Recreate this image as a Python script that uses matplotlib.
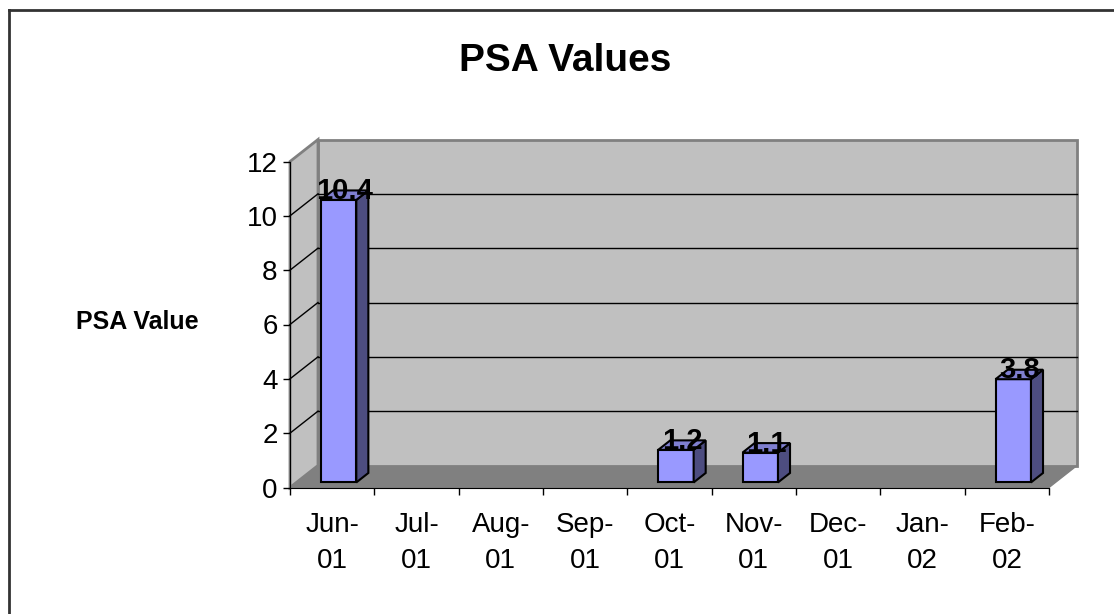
import matplotlib.pyplot as plt
from matplotlib.patches import Polygon
import numpy as np

plt.rcParams['font.family'] = ['Liberation Sans', 'DejaVu Sans']

# data
months = ["Jun-\n01", "Jul-\n01", "Aug-\n01", "Sep-\n01", "Oct-\n01",
          "Nov-\n01", "Dec-\n01", "Jan-\n02", "Feb-\n02"]
psa = [10.4, np.nan, np.nan, np.nan, 1.2, 1.1, np.nan, np.nan, 3.8]
yticks = [0, 2, 4, 6, 8, 10, 12]

W, H = 1114, 614
fig = plt.figure(figsize=(W / 100, H / 100), dpi=100)
ax = fig.add_axes([290 / W, (H - 487.5) / H, (1049 - 290) / W, (487.5 - 161.5) / H])
n = len(months)
ax.set_xlim(0, n)
ax.set_ylim(0, 12)

# 3d depth of the box (in data units)
dx = 28 / ((1049 - 290) / n)
dy = 22 / ((487.5 - 161.5) / 12)

wall = '#c0c0c0'
edge = '#808080'
# floor
ax.add_patch(Polygon([(0, 0), (n, 0), (n + dx, dy), (dx, dy)], closed=True,
                     facecolor='#808080', edgecolor='#808080', lw=1, zorder=0, clip_on=False))
# back wall
ax.add_patch(Polygon([(dx, dy), (n + dx, dy), (n + dx, 12 + dy), (dx, 12 + dy)], closed=True,
                     facecolor=wall, edgecolor=edge, lw=2, zorder=0, clip_on=False))
# left wall
ax.add_patch(Polygon([(0, 0), (dx, dy), (dx, 12 + dy), (0, 12)], closed=True,
                     facecolor=wall, edgecolor=edge, lw=2, zorder=0.5, clip_on=False))
# gridlines
for v in yticks[1:-1]:
    ax.plot([dx, n + dx], [v + dy, v + dy], color='black', lw=1, zorder=1, clip_on=False)
    ax.plot([0, dx], [v, v + dy], color='black', lw=1, zorder=1, clip_on=False)

# bars
bw = 0.42
fx, fy = 0.23 * dx, 0.23 * dy
bdx, bdy = 0.43 * dx, 0.43 * dy
xc = np.arange(n) + 0.5 + fx
ax.bar(xc, psa, width=bw, bottom=fy, color='#9999ff', edgecolor='black', lw=1.5,
       zorder=3, clip_on=False)
for x, v in zip(xc, psa):
    if np.isnan(v):
        continue
    l, r, b, t = x - bw / 2, x + bw / 2, fy, fy + v
    ax.add_patch(Polygon([(r, b), (r + bdx, b + bdy), (r + bdx, t + bdy), (r, t)], closed=True,
                         facecolor='#4d4d80', edgecolor='black', lw=1.5, zorder=3, clip_on=False))
    ax.add_patch(Polygon([(l, t), (r, t), (r + bdx, t + bdy), (l + bdx, t + bdy)], closed=True,
                         facecolor='#7f7fd0', edgecolor='black', lw=1.5, zorder=3, clip_on=False))
    ax.text(x + bdx / 2, t + bdy / 2 + 0.15, f"{v}", ha='center', va='center',
            fontsize=21, fontweight='bold', zorder=4)

# axes
for s in ['top', 'right']:
    ax.spines[s].set_visible(False)
ax.spines['left'].set_zorder(2)
ax.spines['bottom'].set_zorder(2)
ax.patch.set_visible(False)
ax.set_yticks(yticks)
ax.set_yticklabels([str(v) for v in yticks], fontsize=20)
ax.tick_params(axis='y', length=5, width=1, pad=4)
ax.set_xticks(np.arange(n) + 0.5)
ax.set_xticklabels(months, fontsize=20, linespacing=1.45)
ax.set_xticks(np.arange(n + 1), minor=True)
ax.tick_params(axis='x', which='major', length=0, pad=18)
ax.tick_params(axis='x', which='minor', length=5, width=1)

fig.text(565 / W, 1 - 61 / H, "PSA Values", ha='center', va='center',
         fontsize=28, fontweight='bold')
fig.text(137 / W, 1 - 322 / H, "PSA Value", ha='center', va='center',
         fontsize=18, fontweight='bold')

# chart border
fig.add_artist(plt.Line2D([8.5 / W, 8.5 / W], [0, 1 - 10 / H], color='#333333', lw=2))
fig.add_artist(plt.Line2D([8.5 / W, 1], [1 - 10 / H, 1 - 10 / H], color='#333333', lw=2))

fig.savefig('out.png', dpi=100)
